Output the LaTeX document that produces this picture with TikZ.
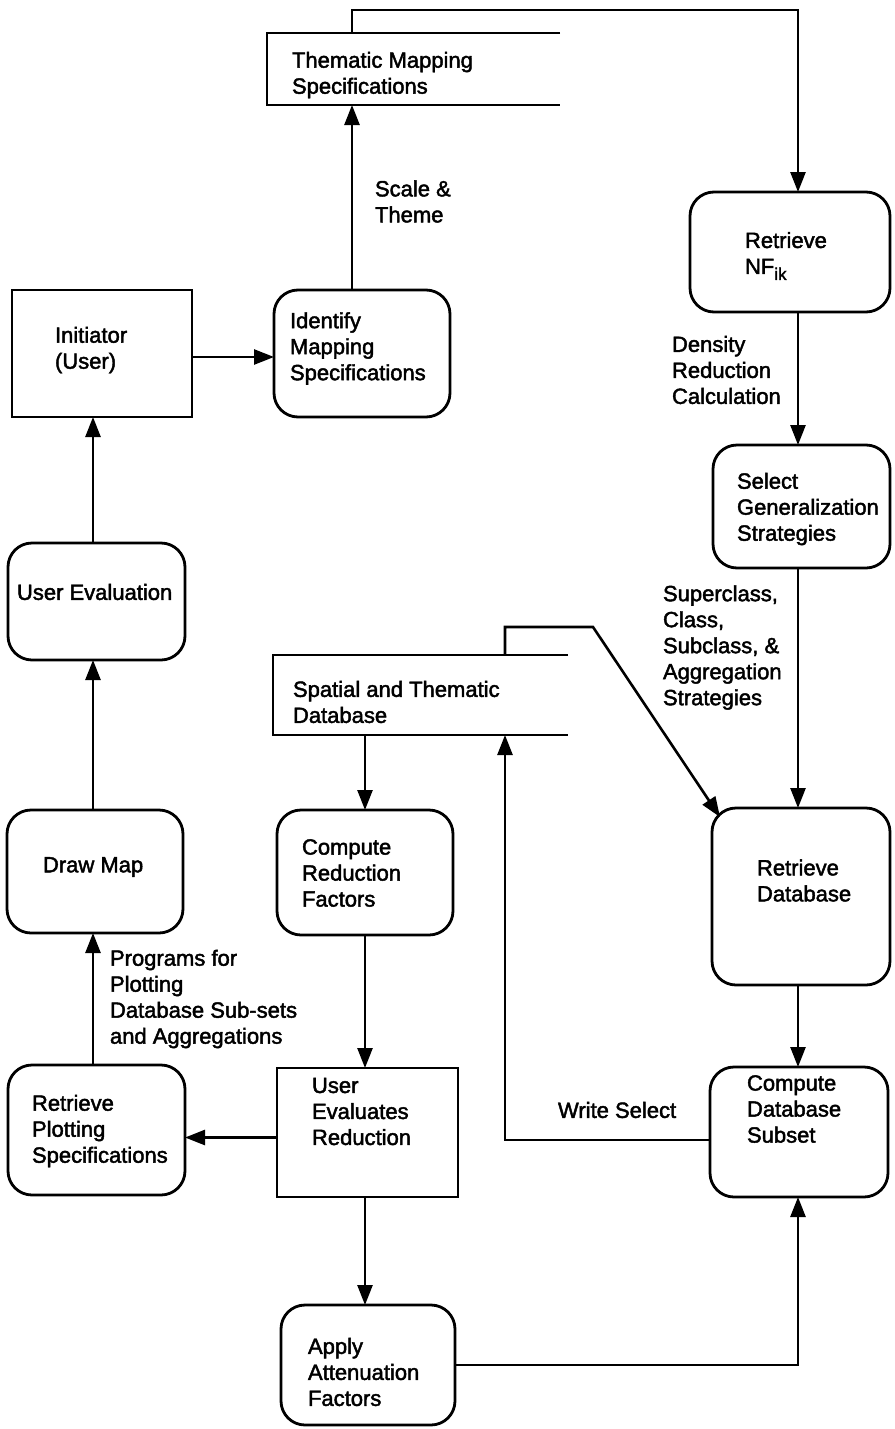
\documentclass[tikz,border=0pt]{standalone}
\usepackage{fontspec}
\setmainfont{Liberation Sans}[BoldFont=Liberation Sans, BoldFeatures={FakeBold=2}]
\usetikzlibrary{arrows.meta,calc}
\begin{document}
\begin{tikzpicture}[x=1pt,y=-1pt,
  every node/.style={inner sep=0pt, outer sep=0pt},
  boxline/.style={line width=2.8pt, line join=miter},
  procbox/.style={draw, line width=2.8pt, rounded corners=24pt},
  actorbox/.style={draw, line width=2.8pt},
  storebox/.style={},
  txt/.style={font=\fontsize{22}{26}\selectfont\bfseries, align=left, anchor=west},
  flow/.style={line width=2.6pt, -{Triangle[length=20pt,width=15pt]}},
]
% canvas
\fill[white] (0,0) rectangle (894,1429);

% guide columns for the vertical trunks
\coordinate (trunk) at (798,0);
\coordinate (lcol) at (93,0);
\coordinate (loopTL) at (352,10);
\coordinate (loopTR) at (798,10);
\coordinate (sp1) at (505,627);
\coordinate (sp2) at (593,627);

% ---- processes and actors ----
\node[actorbox, minimum width=180pt, minimum height=127pt] (init) at (102,353.5) {};
\node[txt] (init-t) at (55,350) {Initiator\\(User)};

\node[procbox, minimum width=176pt, minimum height=127pt] (ident) at (362,353.5) {};
\node[txt] (ident-t) at (290,348.5) {Identify\\Mapping\\Specifications};

\node[procbox, minimum width=200pt, minimum height=120pt] (rnf) at (790,252) {};
\node[txt] (rnf-t) at (745,256) {Retrieve\\NF\raisebox{-6pt}{\fontsize{17}{17}\selectfont ik}};

\node[procbox, minimum width=177pt, minimum height=123pt] (sel) at (801.5,506.5) {};
\node[txt] (sel-t) at (737,509) {Select\\Generalization\\Strategies};

\node[procbox, minimum width=178pt, minimum height=177pt] (rdb) at (801,896.5) {};
\node[txt] (rdb-t) at (757,880.5) {Retrieve\\Database};

\node[procbox, minimum width=178pt, minimum height=130pt] (cdb) at (799,1132) {};
\node[txt] (cdb-t) at (747,1109) {Compute\\Database\\Subset};

\node[procbox, minimum width=176pt, minimum height=125pt] (cred) at (365,872.5) {};
\node[txt] (cred-t) at (302,873) {Compute\\Reduction\\Factors};

\node[actorbox, minimum width=181pt, minimum height=129pt] (uer) at (367.5,1132.5) {};
\node[txt] (uer-t) at (312,1111.5) {User\\Evaluates\\Reduction};

\node[procbox, minimum width=177pt, minimum height=130pt] (rps) at (96.5,1130) {};
\node[txt] (rps-t) at (32,1131) {Retrieve\\Plotting\\Specifications};

\node[procbox, minimum width=176pt, minimum height=123pt] (dmap) at (95,871.5) {};
\node[txt] (dmap-t) at (43,867) {Draw Map};

\node[procbox, minimum width=177pt, minimum height=117pt] (ueval) at (96.5,601.5) {};
\node[txt] (ueval-t) at (17,592) {User Evaluation};

\node[procbox, minimum width=174pt, minimum height=120pt] (apply) at (368,1365) {};
\node[txt] (apply-t) at (308,1372) {Apply\\Attenuation\\Factors};

% ---- data stores (open on the right) ----
\node[storebox, minimum width=293pt, minimum height=72pt] (thematic) at (413.5,69) {};
\draw[boxline] (thematic.north east) -- (thematic.north west) -- (thematic.south west) -- (thematic.south east);
\node[txt] (thematic-t) at (292,75) {Thematic Mapping\\Specifications};

\node[storebox, minimum width=295pt, minimum height=80pt] (spatial) at (420.5,695) {};
\draw[boxline] (spatial.north east) -- (spatial.north west) -- (spatial.south west) -- (spatial.south east);
\node[txt] (spatial-t) at (293,702) {Spatial and Thematic\\Database};

% ---- flows ----
\draw[flow] ([yshift=-3.5pt]init.east) -- ([yshift=-3.5pt]init.east -| ident.west);
\draw[flow] (loopTL |- ident.north) -- (loopTL |- thematic.south);
\draw[flow] (loopTL |- thematic.north) -- (loopTL) -- (loopTR) -- (trunk |- rnf.north);
\draw[flow] (trunk |- rnf.south) -- (trunk |- sel.north);
\draw[flow] (trunk |- sel.south) -- (trunk |- rdb.north);
\draw[flow] (trunk |- rdb.south) -- (trunk |- cdb.north);
\draw[flow] (sp1 |- spatial.north) -- (sp1) -- (sp2) -- ($(rdb.north west)+(8,9)$);
\draw[flow] ([yshift=-8pt]cdb.west) -- ([yshift=-8pt]cdb.west -| sp1) -- (sp1 |- spatial.south);
\draw[flow] (cred.north |- spatial.south) -- (cred.north);
\draw[flow] (cred.south) -- (cred.south |- uer.north);
\draw[flow] ([yshift=-5pt]uer.west) -- ([yshift=-5pt]uer.west -| rps.east);
\draw[flow] (cred.south |- uer.south) -- (cred.south |- apply.north);
\draw[flow] (apply.east) -- (apply.east -| trunk) -- (trunk |- cdb.south);
\draw[flow] (lcol |- rps.north) -- (lcol |- dmap.south);
\draw[flow] (lcol |- dmap.north) -- (lcol |- ueval.south);
\draw[flow] (lcol |- ueval.north) -- (lcol |- init.south);

% ---- flow labels ----
\node[txt] (lbl-scale) at (375,201.5) {Scale \&\\Theme};
\node[txt] (lbl-density) at (672,370) {Density\\Reduction\\Calculation};
\node[txt] (lbl-classes) at (663,647.5) {Superclass,\\Class,\\Subclass, \&\\Aggregation\\Strategies};
\node[txt] (lbl-write) at (558,1110) {Write Select};
\node[txt] (lbl-programs) at (110,999) {Programs for\\Plotting\\Database Sub-sets\\and Aggregations};
\end{tikzpicture}
\end{document}
